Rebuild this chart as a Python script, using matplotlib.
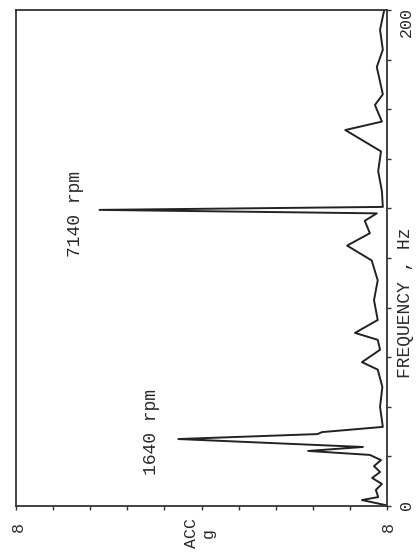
import matplotlib
matplotlib.use('Agg')
import matplotlib.pyplot as plt

# spectrum trace (frequency in Hz, acceleration in g)
freq = [0.4, 2.4, 3.6, 6.5, 8.9, 11.3, 13.7, 16.1, 18.5, 20.6, 22.2, 23.8,
        27.0, 29.0, 29.8, 31.9, 40, 48, 55, 58, 63, 67, 69.8, 75, 83, 91, 99,
        105, 110, 115, 118, 119.4, 120.6, 127, 135, 143, 151.6, 155,
        161.7, 166, 177, 184, 192, 200]
acc = [0.004, 0.054, 0.019, 0.024, 0.011, 0.032, 0.015, 0.028, 0.013, 0.037,
       0.17, 0.052, 0.45, 0.15, 0.14, 0.009, 0.015, 0.01, 0.02, 0.054, 0.015,
       0.02, 0.069, 0.02, 0.028, 0.02, 0.033, 0.086, 0.037, 0.048, 0.022,
       0.62, 0.009, 0.011, 0.019, 0.013, 0.09, 0.011, 0.026, 0.009, 0.022,
       0.009, 0.015, 0.006]

freq_ticks = list(range(0, 201, 20))
acc_ticks = [i * 0.08 for i in range(11)]

fig = plt.figure(figsize=(4.18, 5.6), dpi=100)
fig.patch.set_facecolor('white')
ax = fig.add_axes([16 / 418, 1 - 506 / 560, 371 / 418, 496 / 560])
ax.plot(acc, freq, color='#222222', lw=1.4, solid_joinstyle='round')
ax.set_xlim(0.8, 0)
ax.set_ylim(0, 200)
ax.yaxis.tick_right()
ax.set_xticks(acc_ticks)
ax.set_yticks(freq_ticks)
ax.set_xticklabels([])
ax.set_yticklabels([])
ax.tick_params(direction='out', length=3, width=1, color='#333333')
for s in ax.spines.values():
    s.set_linewidth(1.3)
    s.set_color('#333333')

mono = 'Liberation Mono'
ink = '#2a2a2a'
fig.text(406 / 418, 1 - 303 / 560, 'FREQUENCY , Hz', rotation=90, ha='center',
         va='center', fontsize=13, family=mono, color=ink)
fig.text(406 / 418, 1 - 505 / 560, '0', rotation=90, ha='center', va='center',
         fontsize=12, family=mono, color=ink)
fig.text(406 / 418, 1 - 22 / 560, '200', rotation=90, ha='center', va='center',
         fontsize=12, family=mono, color=ink)
fig.text(18 / 418, 1 - 527 / 560, '8', rotation=90, ha='center', va='center',
         fontsize=12, family=mono, color=ink)
fig.text(388 / 418, 1 - 527 / 560, '8', rotation=90, ha='center', va='center',
         fontsize=12, family=mono, color=ink)
fig.text(200 / 418, 1 - 533 / 560, 'ACC\ng', rotation=90, ha='center',
         va='center', fontsize=12, family=mono, linespacing=1.2, color=ink)
fig.text(76 / 418, 1 - 214 / 560, '7140 rpm', rotation=90, ha='center',
         va='center', fontsize=13, family=mono, color=ink)
fig.text(152 / 418, 1 - 432 / 560, '1640 rpm', rotation=90, ha='center',
         va='center', fontsize=13, family=mono, color=ink)

fig.savefig('out.png', dpi=100)
